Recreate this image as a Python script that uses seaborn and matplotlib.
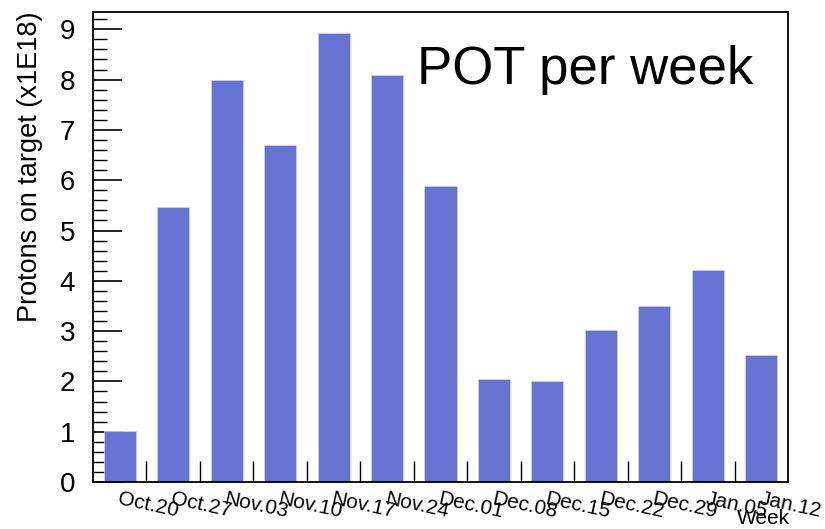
import matplotlib
matplotlib.use("Agg")
import matplotlib.pyplot as plt
import seaborn as sns
import numpy as np

# weekly protons on target, units of 1E18
weeks = ["Oct.20", "Oct.27", "Nov.03", "Nov.10", "Nov.17", "Nov.24", "Dec.01",
         "Dec.08", "Dec.15", "Dec.22", "Dec.29", "Jan.05", "Jan.12"]
pot = [1.01, 5.47, 8.0, 6.70, 8.92, 8.09, 5.88, 2.05, 2.01, 3.02, 3.50, 4.21, 2.52]

sns.set_style("ticks")
plt.rcParams['font.family'] = ['Liberation Sans', 'DejaVu Sans']
plt.rcParams['text.color'] = 'black'
plt.rcParams['axes.labelcolor'] = 'black'

fig = plt.figure(figsize=(8.25, 5.29), dpi=100)
ax = fig.add_axes([93 / 825, 47 / 529, 695 / 825, (482 - 11.7) / 529])

sns.barplot(x=weeks, y=pot, color="#6573d3", saturation=1, width=0.6,
            edgecolor="#c9ceef", linewidth=0.6, ax=ax)

ax.set_xlim(-0.5, len(weeks) - 0.5)
ax.set_ylim(0, 9.35)

# y axis: major every 1, minor every 0.2, pointing inwards
ax.set_yticks(np.arange(0, 10, 1))
ax.set_yticks(np.arange(0, 9.35, 0.2), minor=True)
ax.tick_params(axis="y", which="major", direction="in", length=21, width=1.2,
               labelsize=20, pad=13, colors="black")
ax.tick_params(axis="y", which="minor", direction="in", length=10, width=1.0,
               colors="black")

# x axis: tick marks at bin edges, labels at bin centres
ax.set_xticks(np.arange(len(weeks)))
ax.set_xticklabels(weeks, rotation=-12, ha="left", va="top", rotation_mode="anchor")
ax.set_xticks(np.arange(0.5, len(weeks) - 0.5, 1), minor=True)
ax.tick_params(axis="x", which="major", length=0, labelsize=15, pad=5,
               labelcolor="black")
ax.tick_params(axis="x", which="minor", direction="in", length=15, width=1.0,
               colors="black")

for s in ax.spines.values():
    s.set_visible(True)
    s.set_linewidth(1.3)
    s.set_color("black")

ax.set_xlabel("")
ax.set_ylabel("Protons on target (x1E18)", fontsize=19.5, loc="top")
ax.yaxis.set_label_coords(-0.0906, 1.0)
ax.yaxis.label.set_va("center")

fig.text(790 / 825, 1 / 529, "Week", ha="right", va="bottom", fontsize=15)
ax.text(0.466, 0.93, "POT per week", transform=ax.transAxes, fontsize=38,
        ha="left", va="top", color="black")

fig.savefig("out.png", dpi=100)
